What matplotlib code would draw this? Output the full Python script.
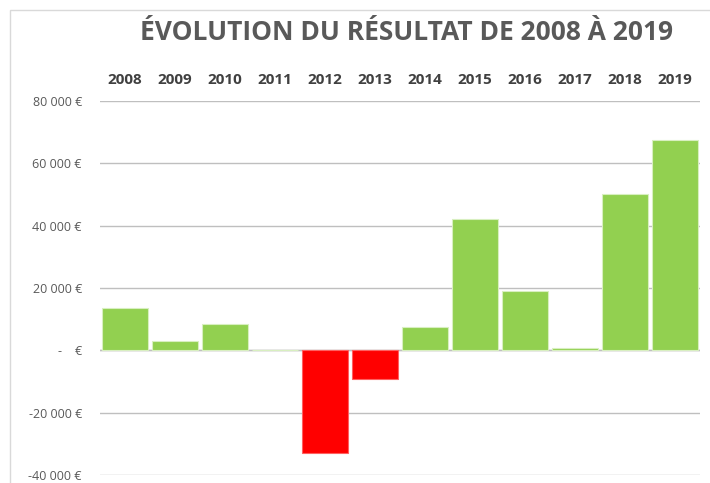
import matplotlib
matplotlib.use("Agg")
import matplotlib.pyplot as plt
from matplotlib.patches import Rectangle

years = ["2008", "2009", "2010", "2011", "2012", "2013", "2014", "2015", "2016", "2017", "2018", "2019"]
results = [13600, 2900, 8450, 0, -33000, -9200, 7400, 42000, 19000, 900, 50200, 67500]
yticks = [-40000, -20000, 0, 20000, 40000, 60000, 80000]
ytick_labels = ["-40 000 €", "-20 000 €", "-    €", "20 000 €", "40 000 €", "60 000 €", "80 000 €"]
title = "ÉVOLUTION DU RÉSULTAT DE 2008 À 2019"

plt.rcParams['font.family'] = ['Open Sans', 'DejaVu Sans']

W, H = 710, 483
fig = plt.figure(figsize=(W / 100, H / 100), dpi=100)
fig.patch.set_facecolor("white")

# chart border (partially visible)
fig.patches.append(Rectangle((10 / W, -0.1), 1.2, (1 - 10 / H) + 0.1, transform=fig.transFigure,
                             fill=False, edgecolor="#D9D9D9", linewidth=1.0))

ax = fig.add_axes([100 / W, 1 - 475 / H, 600 / W, (475 - 101) / H])
x = list(range(len(years)))
colors = ["#92D050" if v >= 0 else "#FF0000" for v in results]
edges = ["#D8EFC0" if v >= 0 else "#FF6060" for v in results]
ax.bar(x, results, width=0.92, color=colors, edgecolor=edges, linewidth=0.8, zorder=3)

ax.set_xlim(-0.5, len(years) - 0.5)
ax.set_ylim(-40000, 80000)
ax.set_yticks(yticks)
ax.set_yticklabels(ytick_labels, fontsize=9, color="#595959")
ax.yaxis.grid(True, color="#BFBFBF", linewidth=1.0, zorder=0)
ax.tick_params(axis="y", length=0, pad=13)

ax.xaxis.tick_top()
ax.set_xticks(x)
ax.set_xticklabels(years, fontsize=11, fontweight="bold", color="#404040")
ax.tick_params(axis="x", length=0, pad=10)

for s in ax.spines.values():
    s.set_visible(False)
ax.axhline(0, color="#BFBFBF", linewidth=1.0, zorder=2)

fig.text(407 / W, 1 - 33 / H, title, ha="center", va="center", fontsize=19,
         fontweight="bold", color="#595959")

fig.savefig("out.png", dpi=100)
